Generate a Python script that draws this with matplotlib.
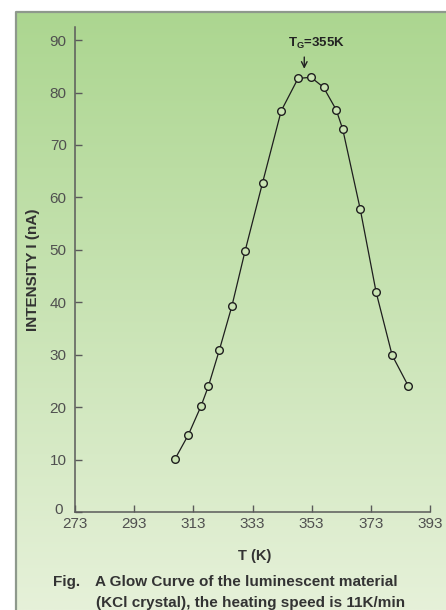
import numpy as np
import matplotlib
matplotlib.use("Agg")
import matplotlib.pyplot as plt
import matplotlib.colors as mcolors
import matplotlib.transforms as mtransforms

plt.rcParams["font.family"] = ["Liberation Sans", "DejaVu Sans"]

# glow curve readings (temperature in K, intensity in nA)
temp_k = [306.8, 311.3, 315.6, 318.1, 321.8, 326.0, 330.5, 336.4, 342.7,
          348.4, 352.8, 357.0, 361.3, 363.5, 369.4, 374.8, 380.2, 385.6]
intensity_na = [10.1, 14.7, 20.2, 24.0, 30.9, 39.2, 49.8, 62.8, 76.5,
                82.7, 82.9, 81.0, 76.7, 73.0, 57.8, 41.9, 29.9, 24.1]

x_ticks = [273, 293, 313, 333, 353, 373, 393]
y_ticks = [0, 10, 20, 30, 40, 50, 60, 70, 80, 90]

peak_label = r"T$_\mathregular{G}$=355K"
peak_temp = 350.5
caption_1 = "A Glow Curve of the luminescent material"
caption_2 = "(KCl crystal), the heating speed is 11K/min"

W, H = 446, 610
fig = plt.figure(figsize=(W / 100, H / 100), dpi=100)
fig.patch.set_facecolor("white")

# green panel with vertical gradient
bg = fig.add_axes([16 / W, 0, 1 - 16 / W, 1 - 12 / H], zorder=0)
top = np.array(mcolors.to_rgb("#acd690"))
bot = np.array(mcolors.to_rgb("#e6f1d9"))
t = np.linspace(0, 1, 256)[:, None]
grad = (top * (1 - t) + bot * t)[:, None, :]
bg.imshow(grad, aspect="auto", extent=[0, 1, 0, 1])
bg.set_xlim(0, 1)
bg.set_ylim(0, 1)
bg.axis("off")
bg.plot([0, 0, 1], [0, 1, 1], color="#8e998c", lw=1.6, transform=bg.transAxes,
        clip_on=False)

ax = fig.add_axes([75 / W, 1 - 512 / H, 355 / W, 485 / H], zorder=1)
ax.set_facecolor("none")

ax.plot(temp_k, intensity_na, color="#1e1e1e", lw=0.9, zorder=2)
ax.plot(temp_k, intensity_na, ls="none", marker="o", ms=5.5, mew=1.0,
        mec="#1e1e1e", mfc="#cae4b4", zorder=3)

ax.set_xlim(273, 393)
ax.set_ylim(0, 92.5)
ax.set_xticks(x_ticks)
ax.set_yticks(y_ticks)

for s in ["top", "right"]:
    ax.spines[s].set_visible(False)
for s in ["left", "bottom"]:
    ax.spines[s].set_color("#5a5a5a")
    ax.spines[s].set_linewidth(1.1)

ax.tick_params(axis="both", direction="in", length=5, width=1.0,
               color="#5a5a5a", labelcolor="#505050", labelsize=11)
ax.tick_params(axis="y", pad=6)
ax.tick_params(axis="x", pad=3.5)

# the "0" label sits a little up and left, clear of "273"
zero_lbl = ax.yaxis.get_major_ticks()[0].label1
zero_lbl.set_transform(zero_lbl.get_transform() +
                       mtransforms.ScaledTranslation(-4 / 100, 4 / 100,
                                                     fig.dpi_scale_trans))

ax.set_ylabel("INTENSITY I (nA)", fontsize=11, fontweight="bold", color="#333333")
ax.yaxis.set_label_coords(-0.100, 0.5)
ax.set_xlabel("T (K)", fontsize=10.5, fontweight="bold", color="#333333")
ax.xaxis.set_label_coords(0.507, -0.077)

ax.text(354.6, 89.4, peak_label, fontsize=9.5, fontweight="bold",
        color="#222222", ha="center", va="center")
ax.annotate("", xy=(peak_temp, 84.0), xytext=(peak_temp, 87.3),
            arrowprops=dict(arrowstyle="->", color="#222222", lw=1.0))

fig.text(53 / W, 1 - 582 / H, "Fig.", fontsize=11, fontweight="bold",
         color="#333333", va="center")
fig.text(95 / W, 1 - 582 / H, caption_1, fontsize=11, fontweight="bold",
         color="#333333", va="center")
fig.text(96 / W, 1 - 603 / H, caption_2, fontsize=11, fontweight="bold",
         color="#333333", va="center")

fig.savefig("out.png", dpi=100)
